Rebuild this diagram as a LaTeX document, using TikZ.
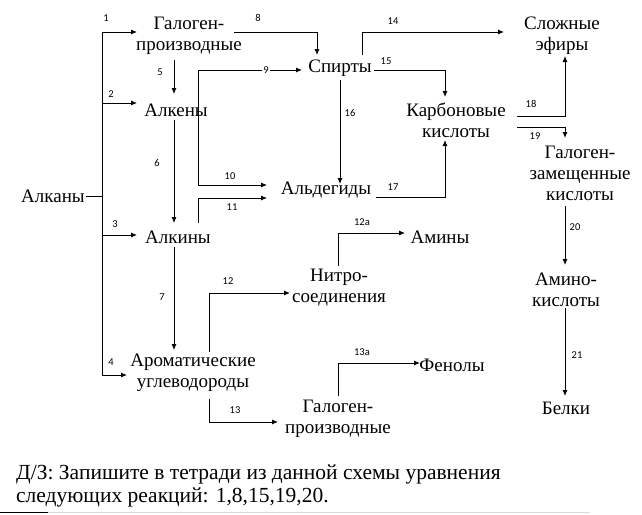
\documentclass[tikz,border=0pt]{standalone}
\usepackage{fontspec}
\setmainfont{Liberation Serif}
\newfontfamily\numfont{Carlito}
\newfontfamily\serifnode{Liberation Serif}
\usetikzlibrary{arrows.meta}
\begin{document}
\begin{tikzpicture}[x=1pt,y=-1pt,
  box/.style={font=\serifnode\fontsize{19}{21}\selectfont, align=center, inner sep=1pt},
  lbl/.style={font=\numfont\fontsize{10.5}{12}\selectfont, inner sep=1pt},
  con/.style={line width=0.9pt},
  arr/.style={line width=0.9pt, -{Latex[length=6pt,width=5pt]}}]
\useasboundingbox (0,0) rectangle (642,514);
% nodes
\node[box] (alk) at (53,196) {Алканы};
\node[box] (gal) at (189,36) {Галоген-\\производные};
\node[box] (alkn) at (176,110) {Алкены};
\node[box] (alki) at (178,237) {Алкины};
\node[box] (arom) at (193,373) {Ароматические\\углеводороды};
\node[box] (spir) at (340,68) {Спирты};
\node[box] (ald) at (326,190) {Альдегиды};
\node[box] (slozh) at (562,36) {Сложные\\эфиры};
\node[box] (karb) at (456,120) {Карбоновые\\кислоты};
\node[box] (galz) at (580,173) {Галоген-\\замещенные\\кислоты};
\node[box] (amk) at (566,290) {Амино-\\кислоты};
\node[box] (belk) at (566,408) {Белки};
\node[box] (nitro) at (339,288) {Нитро-\\соединения};
\node[box] (amin) at (440,237) {Амины};
\node[box] (gal2) at (338,419) {Галоген-\\производные};
\node[box] (fen) at (452,365) {Фенолы};
% trunk
\coordinate (tA) at (102,196);
\coordinate (tTop) at (102,32);
\coordinate (tBot) at (102,375);
\draw[con] (alk.east) -- (tA);
\draw[con] (tTop) -- (tBot);
\draw[arr] (tTop) -- (137,32);
\draw[arr] (102,103) -- (137,103);
\draw[arr] (102,235) -- (137,235);
\draw[arr] (tBot) -- (127,375);
\node[lbl] (l1) at (106,18) {1};
\node[lbl] (l2) at (111,94) {2};
\node[lbl] (l3) at (115,224) {3};
\node[lbl] (l4) at (111,362) {4};
% 5,6,7
\draw[arr] (174,60) -- (174,94);
\node[lbl] (l5) at (160,72) {5};
\draw[arr] (174,120) -- (174,223);
\node[lbl] (l6) at (157,163) {6};
\draw[arr] (174,247) -- (174,350);
\node[lbl] (l7) at (162,297) {7};
% 8
\draw[arr] (234,32) -- (317,32) -- (317,55);
\node[lbl] (l8) at (258,18) {8};
% 9
\draw[arr] (198,103) -- (198,70) -- (302,70);
\node[lbl, fill=white] (l9) at (266,70) {9};
% 10
\draw[arr] (198,103) -- (198,185) -- (267,185);
\node[lbl] (l10) at (230,176) {10};
% 11
\draw[arr] (198,223) -- (198,198) -- (267,198);
\node[lbl] (l11) at (232,207) {11};
% 14
\draw[arr] (362,55) -- (362,32) -- (504,32);
\node[lbl] (l14) at (393,21) {14};
% 15
\draw[arr] (374,70) -- (445,70) -- (445,97);
\node[lbl] (l15) at (386,61) {15};
% 16
\draw[arr] (340,80) -- (340,184);
\node[lbl] (l16) at (350,113) {16};
% 17
\draw[arr] (376,197) -- (445,197) -- (445,140);
\node[lbl] (l17) at (393,187) {17};
% 18
\draw[arr] (517,116) -- (565,116) -- (565,56);
\node[lbl] (l18) at (531,104) {18};
% 19
\draw[arr] (517,127) -- (565,127) -- (565,138);
\node[lbl] (l19) at (535,136) {19};
% 20
\draw[arr] (565,206) -- (565,265);
\node[lbl] (l20) at (575,227) {20};
% 21
\draw[arr] (565,308) -- (565,396);
\node[lbl] (l21) at (577,355) {21};
% 12
\draw[arr] (209,352) -- (209,293) -- (290,293);
\node[lbl] (l12) at (228,281) {12};
% 12a
\draw[arr] (338,266) -- (338,233) -- (405,233);
\node[lbl] (l12a) at (362,222) {12a};
% 13
\draw[arr] (209,399) -- (209,422) -- (278,422);
\node[lbl] (l13) at (235,410) {13};
% 13a
\draw[arr] (338,396) -- (338,363) -- (420,363);
\node[lbl] (l13a) at (362,352) {13a};
% homework text
\node[anchor=west, align=left, inner sep=0pt, font=\serifnode\fontsize{21.5}{23}\selectfont] (hw) at (16,486)
  {Д/З: Запишите в тетради из данной схемы уравнения\\следующих реакций: 1,8,15,19,20.};
\draw[line width=1.2pt] (0,512.5) -- (48,512.5);
\draw[line width=1pt, black!15] (48,512.5) -- (590,512.5);
\end{tikzpicture}
\end{document}
